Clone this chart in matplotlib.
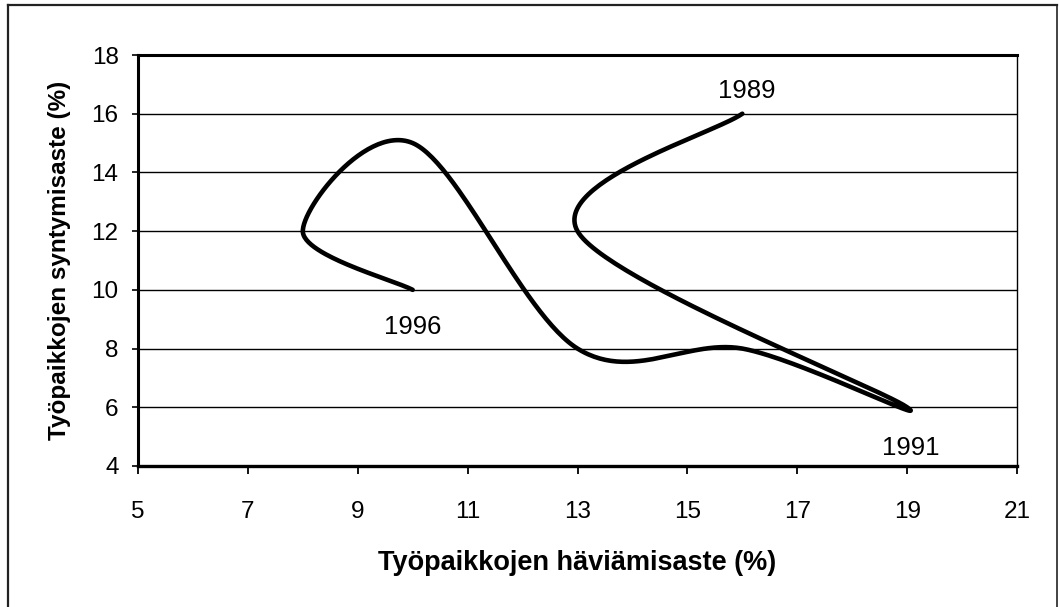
import numpy as np
import matplotlib.pyplot as plt
from matplotlib.lines import Line2D

plt.rcParams['font.family'] = ['Liberation Sans', 'DejaVu Sans']

# Data (job destruction rate vs job creation rate, by year)
years = [1989, 1990, 1991, 1992, 1993, 1994, 1995, 1996]
destruction = [16, 13, 19, 16, 13, 10, 8, 10]   # x, %
creation = [16, 12, 6, 8, 8, 15, 12, 10]        # y, %
labelled_years = [1989, 1991, 1996]
label_offsets = {1989: (3.5, 16), 1991: (2.5, -29.5), 1996: (0, -26.5)}

x_ticks = [5, 7, 9, 11, 13, 15, 17, 19, 21]
y_ticks = [4, 6, 8, 10, 12, 14, 16, 18]


def smooth_line(xs, ys, f=1/6, n=60):
    # Excel-style smoothed line: cubic Bezier through the points
    pts = np.column_stack([xs, ys]).astype(float)
    out = []
    for i in range(len(pts) - 1):
        p0 = pts[i]
        p3 = pts[i + 1]
        prev = pts[i - 1] if i > 0 else pts[i]
        nxt = pts[i + 2] if i + 2 < len(pts) else pts[i + 1]
        p1 = p0 + (p3 - prev) * f
        p2 = p3 - (nxt - p0) * f
        t = np.linspace(0, 1, n)[:, None]
        seg = ((1 - t) ** 3) * p0 + 3 * ((1 - t) ** 2) * t * p1 + 3 * (1 - t) * t ** 2 * p2 + t ** 3 * p3
        out.append(seg if i == 0 else seg[1:])
    out = np.vstack(out)
    return out[:, 0], out[:, 1]


fig = plt.figure(figsize=(10.59, 6.07), dpi=100)
W, H = 1059, 607
ax = fig.add_axes([138 / W, 1 - 466 / H, (1017 - 138) / W, (466 - 55) / H])

sx, sy = smooth_line(destruction, creation)
ax.plot(sx, sy, color='black', lw=3.3, solid_capstyle='round', solid_joinstyle='round', zorder=3)

for yr, xv, yv in zip(years, destruction, creation):
    if yr in labelled_years:
        ax.annotate(str(yr), (xv, yv), xytext=label_offsets[yr], textcoords='offset points',
                    ha='center', va='center', fontsize=18.5)

ax.set_xlim(5, 21)
ax.set_ylim(4, 18)
ax.set_xticks(x_ticks)
ax.set_yticks(y_ticks)
for yv in y_ticks[1:-1]:
    ax.axhline(yv, color='black', lw=1.0, zorder=1)

ax.tick_params(axis='x', direction='out', length=6, width=1.3, pad=19, labelsize=17.5)
ax.tick_params(axis='y', direction='out', length=4, width=1.2, pad=10, labelsize=17.5)

ax.spines['left'].set_linewidth(2.2)
ax.spines['bottom'].set_linewidth(2.4)
ax.spines['top'].set_linewidth(2.2)
ax.spines['right'].set_linewidth(1.0)

ax.set_xlabel('Työpaikkojen häviämisaste (%)', fontsize=19.5, fontweight='bold')
ax.set_ylabel('Työpaikkojen syntymisaste (%)', fontsize=17.5, fontweight='bold')
ax.xaxis.set_label_coords(0.5, (466 - 563) / 411)
ax.xaxis.label.set_verticalalignment('center')
ax.yaxis.set_label_coords((60 - 138) / 879, 0.5)
ax.yaxis.label.set_verticalalignment('center')

# outer frame (open at the bottom)
fx0, fx1, fy1 = 8 / W, 1057 / W, 1 - 5 / H
fig.add_artist(Line2D([fx0, fx0], [0, fy1], transform=fig.transFigure, color='#222222', lw=1.6))
fig.add_artist(Line2D([fx0, fx1], [fy1, fy1], transform=fig.transFigure, color='#222222', lw=1.6))
fig.add_artist(Line2D([fx1, fx1], [0, fy1], transform=fig.transFigure, color='#222222', lw=1.2))

fig.savefig('out.png', dpi=100)
